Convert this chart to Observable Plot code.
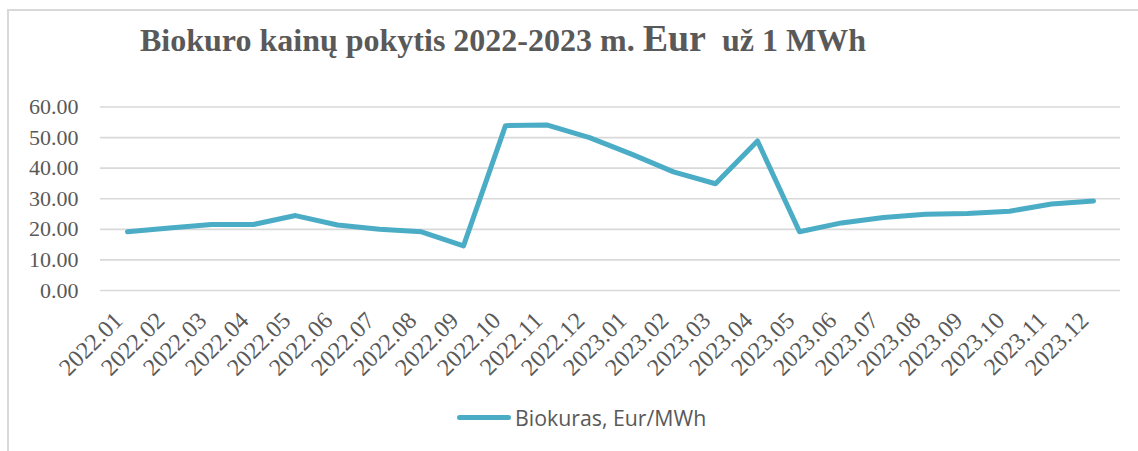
<!DOCTYPE html>
<html>
<head>
<meta charset="utf-8">
<script src="https://cdn.jsdelivr.net/npm/d3@7"></script>
<script src="https://cdn.jsdelivr.net/npm/@observablehq/plot@0.6"></script>
<style>
  html, body { margin: 0; padding: 0; background: #fff; }
  #wrap { position: relative; width: 1138px; height: 451px; overflow: hidden; background: #fff; }
  #frame { position: absolute; left: 7px; top: 9px; width: 1200px; height: 500px;
           border-left: 2px solid #d9d9d9; border-top: 2px solid #d9d9d9; box-sizing: border-box; }
  #title { position: absolute; left: 140px; top: 19px; white-space: pre; line-height: 38px;
           font-family: "Liberation Serif", "Times New Roman", serif; font-weight: bold;
           font-size: 32px; color: #595959; }
  #title .big { font-size: 38px; }
  #chart { position: absolute; left: 0; top: 90px; }
  #legend { position: absolute; left: 457px; top: 404px; height: 26px; display: flex; align-items: center;
            font-family: "Open Sans", sans-serif; font-size: 21.3px; color: #595959; }
  #legend .sw { width: 54px; height: 5px; border-radius: 3px; background: #4bacc6; margin-right: 4px; }
</style>
</head>
<body>
<div id="wrap">
  <div id="frame"></div>
  <div id="title">Biokuro kainų pokytis 2022-2023 m. <span class="big">Eur</span>  už 1 MWh</div>
  <div id="chart"></div>
  <div id="legend"><span class="sw"></span><span>Biokuras, Eur/MWh</span></div>
</div>
<script>
const months = ["2022.01","2022.02","2022.03","2022.04","2022.05","2022.06","2022.07","2022.08","2022.09","2022.10","2022.11","2022.12",
                "2023.01","2023.02","2023.03","2023.04","2023.05","2023.06","2023.07","2023.08","2023.09","2023.10","2023.11","2023.12"];
const prices = [19.2, 20.4, 21.6, 21.6, 24.5, 21.4, 20.0, 19.2, 14.6, 53.9, 54.1, 50.0,
                44.6, 38.8, 34.9, 48.9, 19.2, 22.1, 23.9, 24.9, 25.2, 25.9, 28.3, 29.3];
const yTicks = [0, 10, 20, 30, 40, 50, 60];
const seriesName = "Biokuras, Eur/MWh";

const data = months.map((m, i) => ({month: m, value: prices[i], series: seriesName}));

const chart = Plot.plot({
  width: 1138,
  height: 300,
  marginTop: 16.5,
  marginBottom: 100,
  marginLeft: 100,
  marginRight: 18,
  style: {fontFamily: "'Liberation Serif', 'Times New Roman', serif", color: "#595959", background: "transparent", overflow: "visible"},
  x: {type: "point", domain: months, padding: 0.5},
  y: {domain: [0, 60]},
  marks: [
    Plot.gridY(yTicks, {stroke: "#d9d9d9", strokeOpacity: 1, strokeWidth: 1.6}),
    Plot.axisY(yTicks, {tickSize: 0, tickPadding: 22, tickFormat: d => d.toFixed(2), fontSize: 22, label: null}),
    Plot.axisX({tickRotate: -45, tickSize: 0, tickPadding: 6, fontSize: 24, dx: -9, dy: 20, label: null}),
    Plot.line(data, {x: "month", y: "value", stroke: "#4bacc6", strokeWidth: 5, strokeLinejoin: "round", strokeLinecap: "round"})
  ]
});
document.getElementById("chart").appendChild(chart);
</script>
</body>
</html>
